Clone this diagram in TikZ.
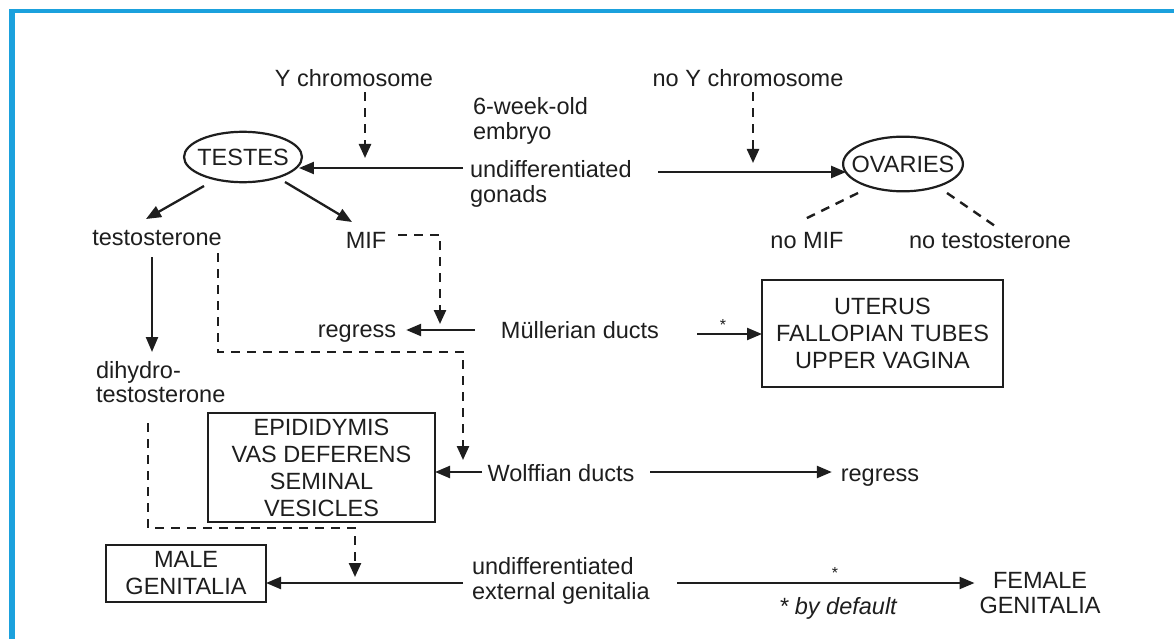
\documentclass[tikz,border=0pt]{standalone}
\usepackage{fontspec}
\setmainfont{Liberation Sans}
\usetikzlibrary{arrows.meta,shapes.geometric}
\definecolor{frameblue}{HTML}{1BA1DD}
\definecolor{ink}{HTML}{1E1E1E}
\begin{document}
\begin{tikzpicture}[x=1pt,y=-1pt, color=ink,
  every node/.style={inner sep=0pt, outer sep=0pt, text=ink, font=\fontsize{23.5}{24.5}\selectfont},
  lbl/.style={anchor=base},
  two/.style={anchor=west, align=left},
  organ/.style={draw, ellipse, line width=2.2pt},
  tissue/.style={draw, line width=2.2pt, align=center, font=\fontsize{23.5}{27}\selectfont},
  arr/.style={line width=2.3pt, -{Triangle[length=15pt,width=12pt]}},
  darr/.style={line width=2.4pt, dash pattern=on 9pt off 7pt, -{Triangle[length=14pt,width=12pt]}},
  dline/.style={line width=2.4pt, dash pattern=on 9pt off 7pt},
]
\useasboundingbox (0,0) rectangle (1174,639);
\fill[white] (0,0) rectangle (1174,639);
% blue frame edges
\fill[frameblue] (9,9) rectangle (1174,13);
\fill[frameblue] (9,9) rectangle (15,639);

% ---- text and organ nodes ----
\node[lbl] (ychr) at (354,87) {Y chromosome};
\node[lbl] (noy) at (748,87) {no Y chromosome};
\node[two] (embryo) at (473,121) {6-week-old\\embryo};
\node[two] (gon) at (470,184) {undifferentiated\\gonads};
\node[organ, inner xsep=-4pt, inner ysep=9.5pt] (testes) at (243,157) {TESTES};
\node[organ, inner xsep=-9pt, inner ysep=11pt] (ovaries) at (903,164) {OVARIES};
\node[lbl] (testo) at (157,245) {testosterone};
\node[lbl] (mif) at (366,248) {MIF};
\node[lbl] (nomif) at (807,248) {no MIF};
\node[lbl] (notesto) at (990,248) {no testosterone};
\node[lbl] (regU) at (357,337) {regress};
\node[lbl] (mull) at (580,338) {Müllerian ducts};
\node[tissue, minimum width=241pt, minimum height=107pt] (uterus) at (882.5,333.5)
  {UTERUS\\FALLOPIAN TUBES\\UPPER VAGINA};
\node[two, align=left] (dht) at (96,382) {dihydro-\\testosterone};
\node[tissue, minimum width=227pt, minimum height=109pt] (epi) at (321.5,467.5)
  {EPIDIDYMIS\\VAS DEFERENS\\SEMINAL\\VESICLES};
\node[lbl] (wolf) at (561,481) {Wolffian ducts};
\node[lbl] (regL) at (880,481) {regress};
\node[tissue, minimum width=160pt, minimum height=57pt] (male) at (186,573.5) {MALE\\GENITALIA};
\node[two] (ext) at (472,581) {undifferentiated\\external genitalia};
\node[align=center] (female) at (1040,593) {FEMALE\\GENITALIA};
\node[font=\fontsize{16}{16}\selectfont] (star1) at (723,325) {*};
\node[font=\fontsize{16}{16}\selectfont] (star2) at (835,573) {*};
\node[lbl, font=\fontsize{23.5}{24.5}\selectfont\itshape] (bydef) at (838,614) {* by default};

% ---- connector end points ----
\coordinate (yT) at (365,158);
\coordinate (nyT) at (753,163);
\coordinate (gonL) at (463,168);
\coordinate (gonR) at (658,172);
\coordinate (teA) at (204,186);
\coordinate (teB) at (146,219);
\coordinate (teC) at (285,182);
\coordinate (teD) at (352,222);
\coordinate (ovA) at (858,193);
\coordinate (ovB) at (805,219);
\coordinate (ovC) at (947,193);
\coordinate (ovD) at (995,226);
\coordinate (mifA) at (398,235);
\coordinate (mifB) at (440,235);
\coordinate (mifC) at (440,324);
\coordinate (mulL) at (475,330);
\coordinate (mulR) at (697,334);
\coordinate (toA) at (152,257);
\coordinate (toB) at (152,352);
\coordinate (tdA) at (218,253);
\coordinate (tdB) at (218,352);
\coordinate (tdC) at (463,352);
\coordinate (tdD) at (463,460);
\coordinate (woL) at (482,472);
\coordinate (woR) at (650,472);
\coordinate (dhA) at (148,423);
\coordinate (dhB) at (148,528);
\coordinate (dhC) at (355,528);
\coordinate (dhD) at (355,577);
\coordinate (exL) at (463,583);
\coordinate (exR) at (677,583);

% ---- connectors ----
\draw[darr, shorten <=5pt] (ychr.south -| yT) -- (yT);
\draw[darr, shorten <=5pt] (noy.south -| nyT) -- (nyT);
\draw[arr, shorten >=-3pt] (gonL) -- (gonL -| testes.east);
\draw[arr, shorten >=-3pt] (gonR) -- (gonR -| ovaries.west);
\draw[arr] (teA) -- (teB);
\draw[arr] (teC) -- (teD);
\draw[dline] (ovA) -- (ovB);
\draw[dline] (ovC) -- (ovD);
\draw[darr] (mifA) -- (mifB) -- (mifC);
\draw[arr, shorten >=10pt] (mulL) -- (mulL -| regU.east);
\draw[arr] (mulR) -- (mulR -| uterus.west);
\draw[arr] (toA) -- (toB);
\draw[darr] (tdA) -- (tdB) -- (tdC) -- (tdD);
\draw[arr] (woL) -- (woL -| epi.east);
\draw[arr, shorten >=9pt] (woR) -- (woR -| regL.west);
\draw[darr] (dhA) -- (dhB) -- (dhC) -- (dhD);
\draw[arr] (exL) -- (exL -| male.east);
\draw[arr, shorten >=5pt] (exR) -- (exR -| female.west);
\end{tikzpicture}
\end{document}
